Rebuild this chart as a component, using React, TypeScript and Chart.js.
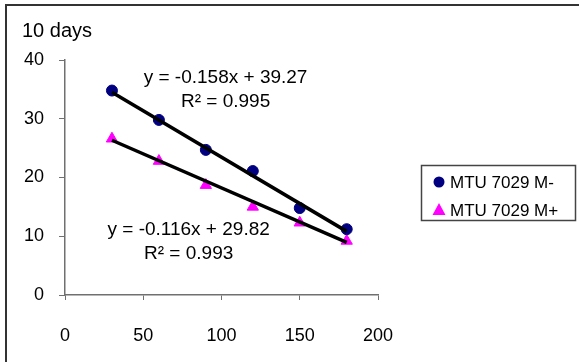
import React, { useEffect, useRef } from "react";
import { Chart, registerables } from "chart.js";

Chart.register(...registerables);

const chartTitle = "10 days";
const xValues = [30, 60, 90, 120, 150, 180];
const seriesMinus = [34.8, 29.8, 24.7, 21.1, 14.8, 11.2];
const seriesPlus = [26.6, 22.8, 18.7, 15.0, 12.3, 9.2];
const seriesNames = ["MTU 7029 M-", "MTU 7029 M+"];
const seriesColors = ["#000080", "#ff00ff"];
const trendSlopes = [-0.158, -0.116];
const trendIntercepts = [39.27, 29.82];
const trendEquations = ["y = -0.158x + 39.27", "y = -0.116x + 29.82"];
const trendR2 = ["R² = 0.995", "R² = 0.993"];
const labelAnchorX = [102.6, 79];
const labelAnchorY = [37.0, 11.1];
const xMin = 0, xMax = 200, xStep = 50;
const yMin = 0, yMax = 40, yStep = 10;

const FONT = "'Liberation Sans', Arial, sans-serif";

function trendPoints(i: number) {
  const x0 = xValues[0];
  const x1 = xValues[xValues.length - 1];
  return [
    { x: x0, y: trendSlopes[i] * x0 + trendIntercepts[i] },
    { x: x1, y: trendSlopes[i] * x1 + trendIntercepts[i] },
  ];
}

const decorPlugin = {
  id: "decor",
  beforeDraw(chart: any) {
    const ctx = chart.ctx;
    ctx.save();
    ctx.fillStyle = "#ffffff";
    ctx.fillRect(0, 0, chart.width, chart.height);
    ctx.strokeStyle = "#333333";
    ctx.lineWidth = 2;
    ctx.strokeRect(6, 5, chart.width + 50, chart.height + 50);
    ctx.restore();
  },
  afterDraw(chart: any) {
    const ctx = chart.ctx;
    const xs = chart.scales.x;
    const ys = chart.scales.y;
    ctx.save();
    // title
    ctx.fillStyle = "#000";
    ctx.font = `20px ${FONT}`;
    ctx.textAlign = "left";
    ctx.textBaseline = "alphabetic";
    ctx.fillText(chartTitle, 22, 37);
    // equations
    ctx.font = `19px ${FONT}`;
    ctx.textAlign = "center";
    ctx.textBaseline = "middle";
    for (let i = 0; i < trendEquations.length; i++) {
      const px = xs.getPixelForValue(labelAnchorX[i]);
      const py = ys.getPixelForValue(labelAnchorY[i]);
      ctx.fillText(trendEquations[i], px, py);
      ctx.fillText(trendR2[i], px, py + 24);
    }
    // legend
    const lx = 421.5, ly = 165.5, lw = 154, lh = 55;
    ctx.strokeStyle = "#444";
    ctx.lineWidth = 1.5;
    ctx.strokeRect(lx, ly, lw, lh);
    ctx.font = `17px ${FONT}`;
    ctx.textAlign = "left";
    ctx.textBaseline = "middle";
    const rows = [182, 210];
    for (let i = 0; i < seriesNames.length; i++) {
      const cy = rows[i];
      ctx.fillStyle = seriesColors[i];
      if (i === 0) {
        ctx.beginPath();
        ctx.arc(439, cy, 5.5, 0, Math.PI * 2);
        ctx.fill();
      } else {
        ctx.beginPath();
        ctx.moveTo(439, cy - 7);
        ctx.lineTo(445.5, cy + 5);
        ctx.lineTo(432.5, cy + 5);
        ctx.closePath();
        ctx.fill();
      }
      ctx.fillStyle = "#000";
      ctx.fillText(seriesNames[i], 450, cy + 1);
    }
    ctx.restore();
  },
};

export default function App() {
  const ref = useRef<HTMLCanvasElement>(null);
  useEffect(() => {
    document.body.style.margin = "0";
    const canvas = ref.current;
    if (!canvas) return;
    const chart = new Chart(canvas, {
      type: "scatter",
      data: {
        datasets: [
          {
            label: "trend1",
            data: trendPoints(0),
            showLine: true,
            borderColor: "#000",
            borderWidth: 3.5,
            pointRadius: 0,
          },
          {
            label: "trend2",
            data: trendPoints(1),
            showLine: true,
            borderColor: "#000",
            borderWidth: 3.5,
            pointRadius: 0,
          },
          {
            label: seriesNames[0],
            data: xValues.map((x, i) => ({ x, y: seriesMinus[i] })),
            pointStyle: "circle",
            pointRadius: 5.5,
            backgroundColor: seriesColors[0],
            borderColor: seriesColors[0],
          },
          {
            label: seriesNames[1],
            data: xValues.map((x, i) => ({ x, y: seriesPlus[i] })),
            pointStyle: "triangle",
            pointRadius: 6.5,
            backgroundColor: seriesColors[1],
            borderColor: seriesColors[1],
          },
        ],
      } as any,
      options: {
        animation: false,
        responsive: false,
        layout: { padding: { left: 0, right: 201, top: 60, bottom: 0 } },
        plugins: { legend: { display: false }, tooltip: { enabled: false } },
        scales: {
          x: {
            type: "linear",
            min: xMin,
            max: xMax,
            grid: { drawOnChartArea: false, tickLength: 5, color: "#707070" },
            border: { color: "#707070", width: 1.5 },
            ticks: { stepSize: xStep, color: "#000", padding: 25, font: { family: FONT, size: 18 } },
            afterFit: (s: any) => { s.height = 67; },
          },
          y: {
            type: "linear",
            min: yMin,
            max: yMax,
            grid: { drawOnChartArea: false, tickLength: 6, color: "#707070" },
            border: { color: "#707070", width: 1.5 },
            ticks: { stepSize: yStep, color: "#000", padding: 15, font: { family: FONT, size: 18 } },
            afterFit: (s: any) => { s.width = 65; },
          },
        },
      } as any,
      plugins: [decorPlugin],
    });
    return () => chart.destroy();
  }, []);
  return (
    <div style={{ position: "absolute", left: 0, top: 0, width: 579, height: 362 }}>
      <canvas ref={ref} width={579} height={362} style={{ display: "block" }} />
    </div>
  );
}
